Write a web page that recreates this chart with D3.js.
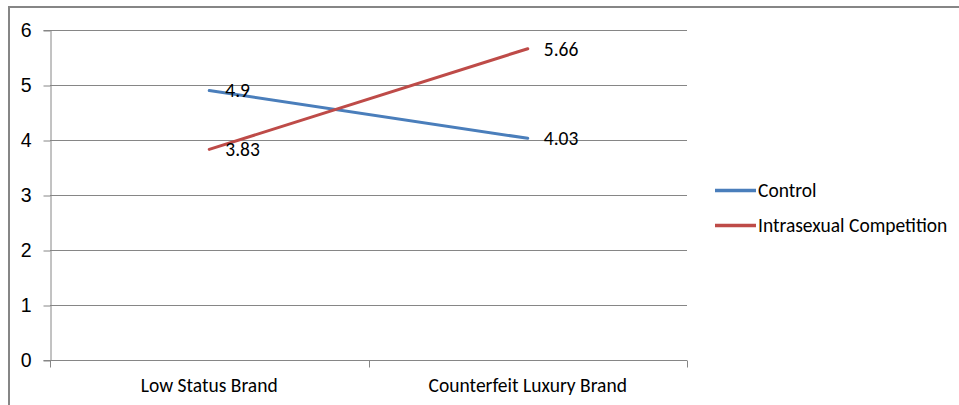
<!DOCTYPE html>
<html>
<head>
<meta charset="utf-8">
<script src="https://cdn.jsdelivr.net/npm/d3@7"></script>
<style>
  html, body { margin: 0; padding: 0; background: #fff; }
  svg { display: block; font-family: Carlito, Calibri, Lato, "Liberation Sans", sans-serif; }
</style>
</head>
<body>
<svg id="chart" width="959" height="405"></svg>
<script>
// Interaction plot: brand type × condition
const categories = ["Low Status Brand", "Counterfeit Luxury Brand"];
const seriesNames = ["Control", "Intrasexual Competition"];
const controlValues = [4.9, 4.03];
const competitionValues = [3.83, 5.66];
const valueLabels = [["4.9", "4.03"], ["3.83", "5.66"]];
const yTicks = [0, 1, 2, 3, 4, 5, 6];
const seriesColors = ["#4A7EBB", "#BE4B48"];

const series = seriesNames.map((name, i) => ({
  name,
  color: seriesColors[i],
  values: (i === 0 ? controlValues : competitionValues).map((v, j) => ({
    cat: categories[j], value: v, label: valueLabels[i][j]
  }))
}));

const svg = d3.select("#chart");
const gridColor = "#868686";
const fontSize = 19.5;

// Chart border (frame continues past the right and bottom edges)
svg.append("rect")
  .attr("x", 9).attr("y", 7)
  .attr("width", 980).attr("height", 420)
  .attr("fill", "none")
  .attr("stroke", gridColor)
  .attr("stroke-width", 2);

const plot = { left: 50, right: 687, top: 30, bottom: 360 };

const x = d3.scaleBand()
  .domain(categories)
  .range([plot.left, plot.right]);

const y = d3.scaleLinear()
  .domain([0, 6])
  .range([plot.bottom, plot.top]);

// Horizontal gridlines
svg.append("g")
  .selectAll("line")
  .data(yTicks)
  .join("line")
  .attr("x1", plot.left).attr("x2", plot.right)
  .attr("y1", d => y(d) + 0.5).attr("y2", d => y(d) + 0.5)
  .attr("stroke", gridColor)
  .attr("stroke-width", 1);

// Y axis
const yAxis = svg.append("g")
  .attr("transform", `translate(${plot.left + 0.5},0)`)
  .call(d3.axisLeft(y).tickValues(yTicks).tickSize(7).tickPadding(12).tickFormat(d3.format("d")));
yAxis.select(".domain").attr("stroke", gridColor);
yAxis.selectAll(".tick line").attr("stroke", gridColor).attr("transform", "translate(0,0.5)");
yAxis.selectAll(".tick text")
  .attr("font-size", fontSize)
  .attr("font-family", null)
  .attr("fill", "#000");

// X axis with tick marks at category boundaries
const xAxisG = svg.append("g")
  .attr("transform", `translate(0,${plot.bottom + 0.5})`);
xAxisG.append("line")
  .attr("x1", plot.left).attr("x2", plot.right)
  .attr("stroke", gridColor);
const boundaries = [plot.left, ...categories.map(c => x(c) + x.bandwidth())];
xAxisG.selectAll("line.bound")
  .data(boundaries)
  .join("line")
  .attr("class", "bound")
  .attr("x1", d => Math.round(d) + 0.5).attr("x2", d => Math.round(d) + 0.5)
  .attr("y1", 0).attr("y2", 7)
  .attr("stroke", gridColor);
xAxisG.selectAll("text")
  .data(categories)
  .join("text")
  .attr("x", d => x(d) + x.bandwidth() / 2)
  .attr("y", 31)
  .attr("text-anchor", "middle")
  .attr("font-size", fontSize)
  .attr("fill", "#000")
  .text(d => d);

// Series lines
const line = d3.line()
  .x(d => x(d.cat) + x.bandwidth() / 2)
  .y(d => y(d.value));

svg.append("g")
  .selectAll("path")
  .data(series)
  .join("path")
  .attr("d", s => line(s.values))
  .attr("fill", "none")
  .attr("stroke", s => s.color)
  .attr("stroke-width", 3)
  .attr("stroke-linecap", "round");

// Value labels to the right of each point
svg.append("g")
  .selectAll("text")
  .data(series.flatMap(s => s.values))
  .join("text")
  .attr("x", d => x(d.cat) + x.bandwidth() / 2 + 16)
  .attr("y", d => y(d.value))
  .attr("dy", "0.35em")
  .attr("font-size", fontSize)
  .attr("fill", "#000")
  .text(d => d.label);

// Legend
const legend = svg.append("g")
  .selectAll("g")
  .data(series)
  .join("g")
  .attr("transform", (d, i) => `translate(715,${190.5 + i * 35})`);
legend.append("line")
  .attr("x1", 0).attr("x2", 41)
  .attr("stroke", d => d.color)
  .attr("stroke-width", 3.5);
legend.append("text")
  .attr("x", 43)
  .attr("dy", "0.35em")
  .attr("font-size", fontSize)
  .attr("fill", "#000")
  .text(d => d.name);
</script>
</body>
</html>
